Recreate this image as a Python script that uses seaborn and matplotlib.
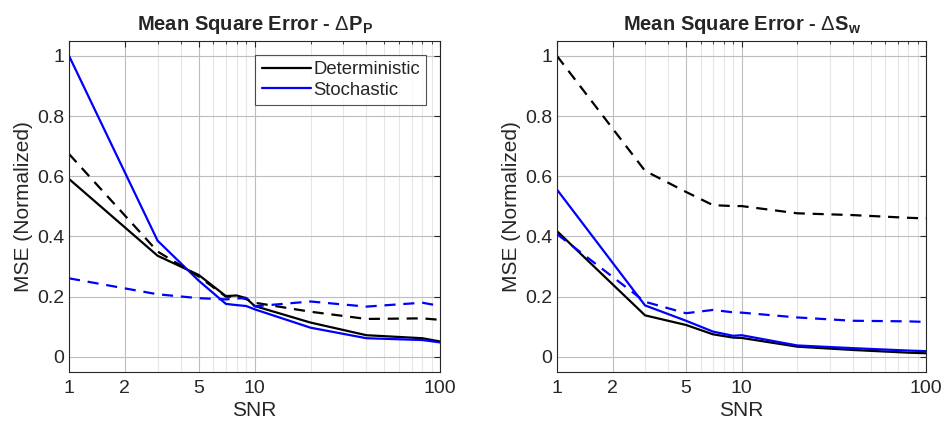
import matplotlib
matplotlib.use("Agg")
import matplotlib.pyplot as plt
import matplotlib.ticker as mticker
import seaborn as sns

# SNR levels
snr_p = [1, 3, 5, 7, 8, 9, 10, 20, 40, 80, 100]
snr_s = [1, 3, 5, 7, 9, 10, 20, 40, 80, 100]

# Delta P_P
p_det = [0.591, 0.336, 0.272, 0.202, 0.204, 0.195, 0.169, 0.114, 0.072, 0.062, 0.051]
p_det_dash = [0.674, 0.350, 0.267, 0.200, 0.200, 0.192, 0.180, 0.150, 0.126, 0.128, 0.123]
p_sto = [1.000, 0.386, 0.253, 0.176, 0.172, 0.169, 0.158, 0.097, 0.062, 0.056, 0.048]
p_sto_dash = [0.261, 0.208, 0.195, 0.191, 0.194, 0.196, 0.168, 0.184, 0.167, 0.180, 0.169]

# Delta S_w
s_det = [0.418, 0.138, 0.106, 0.075, 0.064, 0.063, 0.034, 0.023, 0.014, 0.012]
s_det_dash = [1.000, 0.618, 0.548, 0.504, 0.501, 0.501, 0.477, 0.471, 0.462, 0.460]
s_sto = [0.556, 0.171, 0.120, 0.084, 0.070, 0.072, 0.038, 0.029, 0.021, 0.019]
s_sto_dash = [0.408, 0.183, 0.145, 0.156, 0.148, 0.147, 0.131, 0.120, 0.118, 0.116]

sns.set_style("white")
plt.rcParams["font.family"] = ["Liberation Sans", "DejaVu Sans"]
plt.rcParams["mathtext.fontset"] = "custom"
plt.rcParams["mathtext.rm"] = "Liberation Sans"
plt.rcParams["mathtext.bf"] = "Liberation Sans:bold"

fig = plt.figure(figsize=(9.52, 4.34), dpi=100)
ax1 = fig.add_axes([0.0725, 0.143, 0.390, 0.763])
ax2 = fig.add_axes([0.585, 0.143, 0.388, 0.763])


def draw(ax, snr, det, det_d, sto, sto_d, title, legend=False):
    sns.lineplot(x=snr, y=det, ax=ax, color="black", lw=1.6, label="Deterministic")
    sns.lineplot(x=snr, y=sto, ax=ax, color="#0000ff", lw=1.6, label="Stochastic")
    sns.lineplot(x=snr, y=det_d, ax=ax, color="black", lw=1.6)
    sns.lineplot(x=snr, y=sto_d, ax=ax, color="#0000ff", lw=1.6)
    ax.lines[2].set_dashes([5, 3.5])
    ax.lines[3].set_dashes([5, 3.5])
    ax.set_xscale("log")
    ax.set_xlim(1, 100)
    ax.set_ylim(-0.05, 1.05)
    ax.xaxis.set_major_locator(mticker.FixedLocator([1, 2, 5, 10, 100]))
    ax.xaxis.set_major_formatter(mticker.FixedFormatter(["1", "2", "5", "10", "100"]))
    ax.xaxis.set_minor_locator(mticker.LogLocator(base=10, subs=range(2, 10)))
    ax.xaxis.set_minor_formatter(mticker.NullFormatter())
    ax.set_yticks([0, 0.2, 0.4, 0.6, 0.8, 1])
    ax.set_yticklabels(["0", "0.2", "0.4", "0.6", "0.8", "1"])
    ax.grid(True, which="major", color="#bdbdbd", lw=0.8)
    ax.grid(True, which="minor", axis="x", color="#e6e6e6", lw=0.8)
    ax.tick_params(which="both", direction="in", colors="#262626", labelsize=14,
                   top=True, right=True, length=4)
    ax.tick_params(axis="x", pad=6)
    ax.tick_params(which="minor", length=2.5)
    for s in ax.spines.values():
        s.set_color("#262626")
        s.set_linewidth(0.8)
    ax.set_xlabel("SNR", fontsize=15, color="#262626", labelpad=3)
    ax.set_ylabel("MSE (Normalized)", fontsize=15, color="#262626", labelpad=3)
    ax.set_title(title, fontsize=14.5, fontweight="bold", pad=8)
    if legend:
        leg = ax.legend(loc="upper right", fontsize=13.3, frameon=True, fancybox=False,
                        handlelength=2.7, handletextpad=0.1, borderpad=0.35,
                        labelspacing=0.2, borderaxespad=0.75)
        leg.get_frame().set_edgecolor("#262626")
        leg.get_frame().set_linewidth(0.8)
    else:
        ax.get_legend().remove()


draw(ax1, snr_p, p_det, p_det_dash, p_sto, p_sto_dash,
     r"Mean Square Error - $\Delta\mathbf{P_P}$", legend=True)
draw(ax2, snr_s, s_det, s_det_dash, s_sto, s_sto_dash,
     r"Mean Square Error - $\Delta\mathbf{S_w}$")

fig.savefig("out.png", dpi=100)
